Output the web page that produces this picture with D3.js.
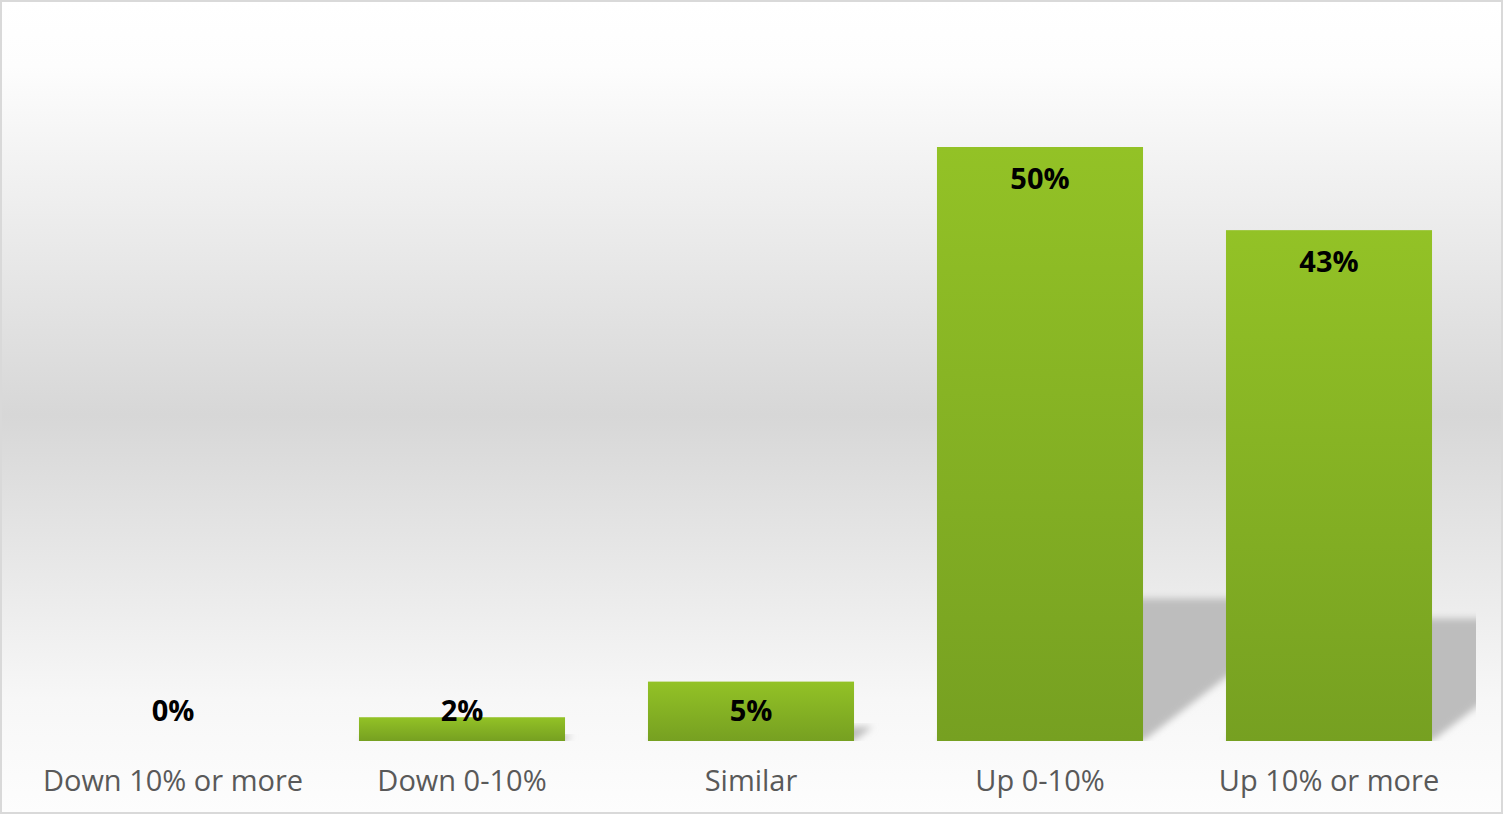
<!DOCTYPE html>
<html>
<head>
<meta charset="utf-8">
<script src="https://cdn.jsdelivr.net/npm/d3@7/dist/d3.min.js"></script>
<style>
  html, body { margin: 0; padding: 0; background: #ffffff; }
  svg { display: block; }
</style>
</head>
<body>
<svg id="chart" width="1504" height="816"></svg>
<script>
// Share of respondents by expected change
const categories = ["Down 10% or more", "Down 0-10%", "Similar", "Up 0-10%", "Up 10% or more"];
const values = [0, 2, 5, 50, 43];
const valueLabels = ["0%", "2%", "5%", "50%", "43%"];

const W = 1504, H = 816;
const svg = d3.select("#chart");
const defs = svg.append("defs");

// Background: white at the edges, soft grey band through the middle
const bg = defs.append("linearGradient").attr("id", "bgGrad")
  .attr("x1", 0).attr("y1", 0).attr("x2", 0).attr("y2", 1);
[[0, "#ffffff"], [0.08, "#fdfdfd"], [0.51, "#d7d7d7"], [0.86, "#f7f7f7"], [1, "#fdfdfd"]]
  .forEach(([o, c]) => bg.append("stop").attr("offset", o).attr("stop-color", c));

// Bar fill: bright green on top, darker green below
const barGrad = defs.append("linearGradient").attr("id", "barGrad")
  .attr("x1", 0).attr("y1", 0).attr("x2", 0).attr("y2", 1);
[[0, "#93c226"], [1, "#76a021"]]
  .forEach(([o, c]) => barGrad.append("stop").attr("offset", o).attr("stop-color", c));

// Soft edge for the cast shadows
defs.append("filter").attr("id", "shadowBlur")
  .attr("x", "-20%").attr("y", "-20%").attr("width", "140%").attr("height", "140%")
  .append("feGaussianBlur").attr("stdDeviation", 3.5);

// Plot area clip (shadows stop at the plot's right edge)
defs.append("clipPath").attr("id", "plotClip")
  .append("rect").attr("x", 20).attr("y", 0).attr("width", 1456).attr("height", 741);

svg.append("rect")
  .attr("x", 1).attr("y", 1).attr("width", 1501).attr("height", 812)
  .attr("fill", "url(#bgGrad)")
  .attr("stroke", "#d9d9d9").attr("stroke-width", 2);

const x = d3.scaleBand()
  .domain(categories)
  .range([28.5, 1473.5])
  .paddingInner(0.287)
  .paddingOuter(0.1435);

const y = d3.scaleLinear().domain([0, 50]).range([741, 147]);
const base = y(0);

const data = categories.map((c, i) => ({ cat: c, v: values[i], label: valueLabels[i] }));

// Perspective shadows cast up and to the right of each bar
const skew = 1.3, shadowRatio = 0.24;
svg.append("g").attr("clip-path", "url(#plotClip)")
  .selectAll("polygon")
  .data(data.filter(d => d.v > 0))
  .join("polygon")
  .attr("points", d => {
    const x0 = x(d.cat), x1 = x0 + x.bandwidth();
    const sh = shadowRatio * (base - y(d.v));
    const dx = skew * sh;
    return [[x0, base], [x1, base], [x1 + dx, base - sh], [x0 + dx, base - sh]]
      .map(p => p.join(",")).join(" ");
  })
  .attr("fill", "#bdbdbd")
  .attr("filter", "url(#shadowBlur)");

// Bars
svg.append("g")
  .selectAll("rect")
  .data(data.filter(d => d.v > 0))
  .join("rect")
  .attr("x", d => x(d.cat))
  .attr("y", d => y(d.v))
  .attr("width", x.bandwidth())
  .attr("height", d => base - y(d.v))
  .attr("fill", "url(#barGrad)");

// Value labels inside the top of each bar
svg.append("g")
  .selectAll("text")
  .data(data)
  .join("text")
  .attr("x", d => x(d.cat) + x.bandwidth() / 2)
  .attr("y", d => Math.min(y(d.v) + 42, base - 20))
  .attr("text-anchor", "middle")
  .attr("font-family", "'Open Sans', 'Noto Sans', sans-serif")
  .attr("font-weight", 700)
  .attr("font-size", 29)
  .attr("fill", "#000000")
  .text(d => d.label);

// Category axis
const axis = svg.append("g")
  .attr("transform", `translate(0,${base})`)
  .call(d3.axisBottom(x).tickSize(0).tickPadding(0));
axis.select(".domain").remove();
axis.selectAll("text")
  .attr("y", 50)
  .attr("dy", 0)
  .attr("font-family", "'Open Sans', 'Noto Sans', sans-serif")
  .attr("font-size", 29)
  .attr("fill", "#595959");
</script>
</body>
</html>
